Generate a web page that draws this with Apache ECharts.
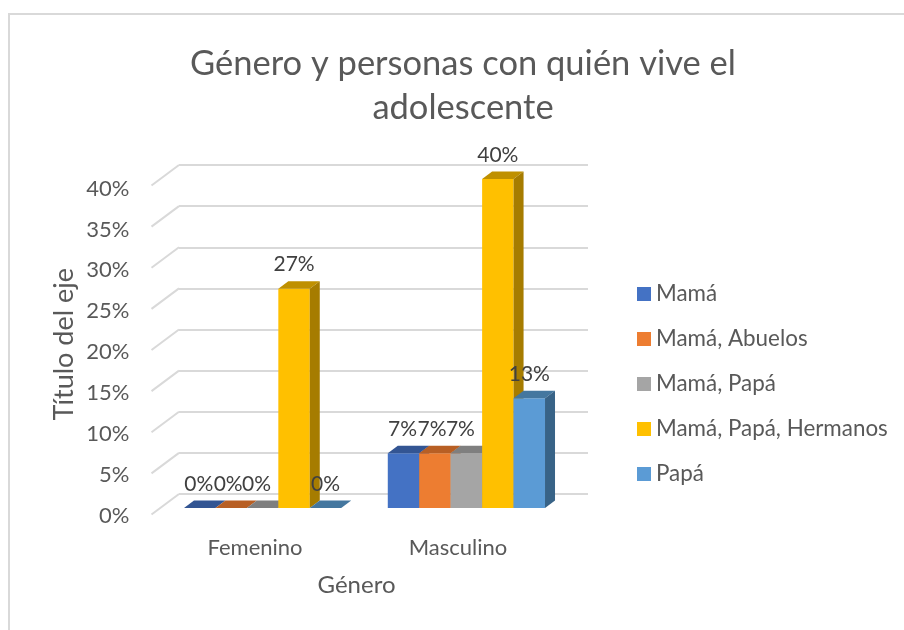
<!DOCTYPE html>
<html>
<head>
<meta charset="utf-8">
<style>
  html, body { margin: 0; padding: 0; background: #fff; }
  #chart { width: 904px; height: 630px; }
</style>
<script src="https://cdn.jsdelivr.net/npm/echarts@6/dist/echarts.min.js"></script>
</head>
<body>
<div id="chart"></div>
<script>
  const categories = ['Femenino', 'Masculino'];
  const seriesNames = ['Mamá', 'Mamá, Abuelos', 'Mamá, Papá', 'Mamá, Papá, Hermanos', 'Papá'];
  const mama = [0, 6.67];
  const mamaAbuelos = [0, 6.67];
  const mamaPapa = [0, 6.67];
  const mamaPapaHermanos = [26.67, 40];
  const papa = [0, 13.33];
  const yTicks = [0, 5, 10, 15, 20, 25, 30, 35, 40];

  const FONT = 'Lato, sans-serif';
  const TEXT = '#595959';
  const GRID_LINE = '#d9d9d9';

  // front, top, side faces of each 3D bar
  const faces = [
    ['#4472c4', '#335593', '#2f5190'],
    ['#ed7d31', '#b85f24', '#ae5a21'],
    ['#a5a5a5', '#7f7f7f', '#7c7c7c'],
    ['#ffc000', '#bf9000', '#a67c00'],
    ['#5b9bd5', '#44779f', '#386387'],
  ];
  const labelShift = [-1, -3, -6, 0, 0];
  const DX = 10;
  const DY = 7.5;

  function barRender(idx) {
    return function (params, api) {
      const val = api.value(1);
      const band = api.size([1, 0])[0];
      const w = band * 0.1543;
      const c = api.coord([api.value(0), val]);
      const base = api.coord([api.value(0), 0]);
      const x = c[0] + (idx - 2) * w - w / 2;
      const top = c[1];
      const bot = base[1];
      return {
        type: 'group',
        children: [
          { type: 'rect', shape: { x: x, y: top, width: w, height: bot - top }, style: { fill: faces[idx][0] } },
          { type: 'polygon', shape: { points: [[x, top], [x + DX, top - DY], [x + w + DX, top - DY], [x + w, top]] }, style: { fill: faces[idx][1] } },
          { type: 'polygon', shape: { points: [[x + w, top], [x + w + DX, top - DY], [x + w + DX, bot - DY], [x + w, bot]] }, style: { fill: faces[idx][2] } },
          {
            type: 'text',
            z2: 10,
            style: {
              x: x + w / 2 + labelShift[idx],
              y: top - 24,
              text: Math.round(val) + '%',
              align: 'center',
              verticalAlign: 'middle',
              fill: '#404040',
              font: '21px ' + FONT,
            },
          },
        ],
      };
    };
  }

  // floor edge of the back wall, running out to the front plane
  function slantRender(params, api) {
    const y = api.coord([0, api.value(0)])[1];
    const x = params.coordSys.x;
    return {
      type: 'line',
      shape: { x1: x, y1: y, x2: x - 27.5, y2: y + 20.5 },
      style: { stroke: GRID_LINE, lineWidth: 2 },
    };
  }

  const seriesData = [mama, mamaAbuelos, mamaPapa, mamaPapaHermanos, papa];

  const option = {
    animation: false,
    backgroundColor: '#fff',
    textStyle: { fontFamily: FONT },
    graphic: [
      { type: 'polyline', silent: true, shape: { points: [[9, 630], [9, 14], [904, 14]] }, style: { stroke: GRID_LINE, lineWidth: 2, fill: 'none' } },
    ],
    title: {
      text: 'Género y personas con quién vive el\nadolescente',
      left: 458,
      top: 37,
      textAlign: 'center',
      textStyle: { fontFamily: FONT, fontWeight: 'normal', fontSize: 34.5, lineHeight: 44, color: TEXT },
    },
    legend: {
      orient: 'vertical',
      left: 632,
      top: 278,
      itemWidth: 14,
      itemHeight: 14,
      itemGap: 23,
      icon: 'rect',
      selectedMode: false,
      data: seriesNames,
      textStyle: { fontFamily: FONT, fontSize: 22.4, color: TEXT, height: 14, lineHeight: 14 },
    },
    grid: [
      // back wall, carries the gridlines
      { left: 179, right: 316, top: 165, height: 329 },
      // front edge, carries the axis labels
      { left: 153.5, width: 406, top: 188.5, height: 327.5 },
      // plane the bars stand on
      { left: 160.7, width: 407.6, top: 179, height: 329 },
    ],
    xAxis: [
      { gridIndex: 0, type: 'category', data: categories, show: false },
      {
        gridIndex: 1,
        type: 'category',
        data: categories,
        name: 'Género',
        nameLocation: 'middle',
        nameGap: 57,
        nameTextStyle: { fontFamily: FONT, fontSize: 24, color: TEXT },
        axisLine: { show: false },
        axisTick: { show: false },
        axisLabel: { margin: 21, fontFamily: FONT, fontSize: 22, color: TEXT },
      },
      { gridIndex: 2, type: 'category', data: categories, show: false },
    ],
    yAxis: [
      {
        gridIndex: 0,
        type: 'value',
        min: 0,
        max: 40,
        interval: 5,
        axisLine: { show: false },
        axisTick: { show: false },
        axisLabel: { show: false },
        splitLine: { show: true, lineStyle: { color: GRID_LINE, width: 2 } },
      },
      {
        gridIndex: 1,
        type: 'value',
        min: 0,
        max: 40,
        interval: 5,
        name: 'Título del eje',
        nameLocation: 'middle',
        nameGap: 76,
        nameTextStyle: { fontFamily: FONT, fontSize: 27, color: TEXT, padding: [0, 0, 0, 16] },
        axisLine: { show: false },
        axisTick: { show: false },
        splitLine: { show: false },
        axisLabel: { margin: 24, fontFamily: FONT, fontSize: 22, color: TEXT, formatter: '{value}%' },
      },
      { gridIndex: 2, type: 'value', min: 0, max: 40, interval: 5, show: false, splitLine: { show: false } },
    ],
    series: [
      {
        type: 'custom',
        xAxisIndex: 0,
        yAxisIndex: 0,
        silent: true,
        renderItem: slantRender,
        data: yTicks.map((t) => [t]),
        encode: { y: 0 },
      },
    ].concat(
      seriesNames.map((name, i) => ({
        type: 'custom',
        name: name,
        xAxisIndex: 2,
        yAxisIndex: 2,
        itemStyle: { color: faces[i][0] },
        renderItem: barRender(i),
        data: categories.map((c, j) => [j, seriesData[i][j]]),
        encode: { x: 0, y: 1 },
      }))
    ),
  };

  const myChart = echarts.init(document.getElementById('chart'));
  myChart.setOption(option);
</script>
</body>
</html>
